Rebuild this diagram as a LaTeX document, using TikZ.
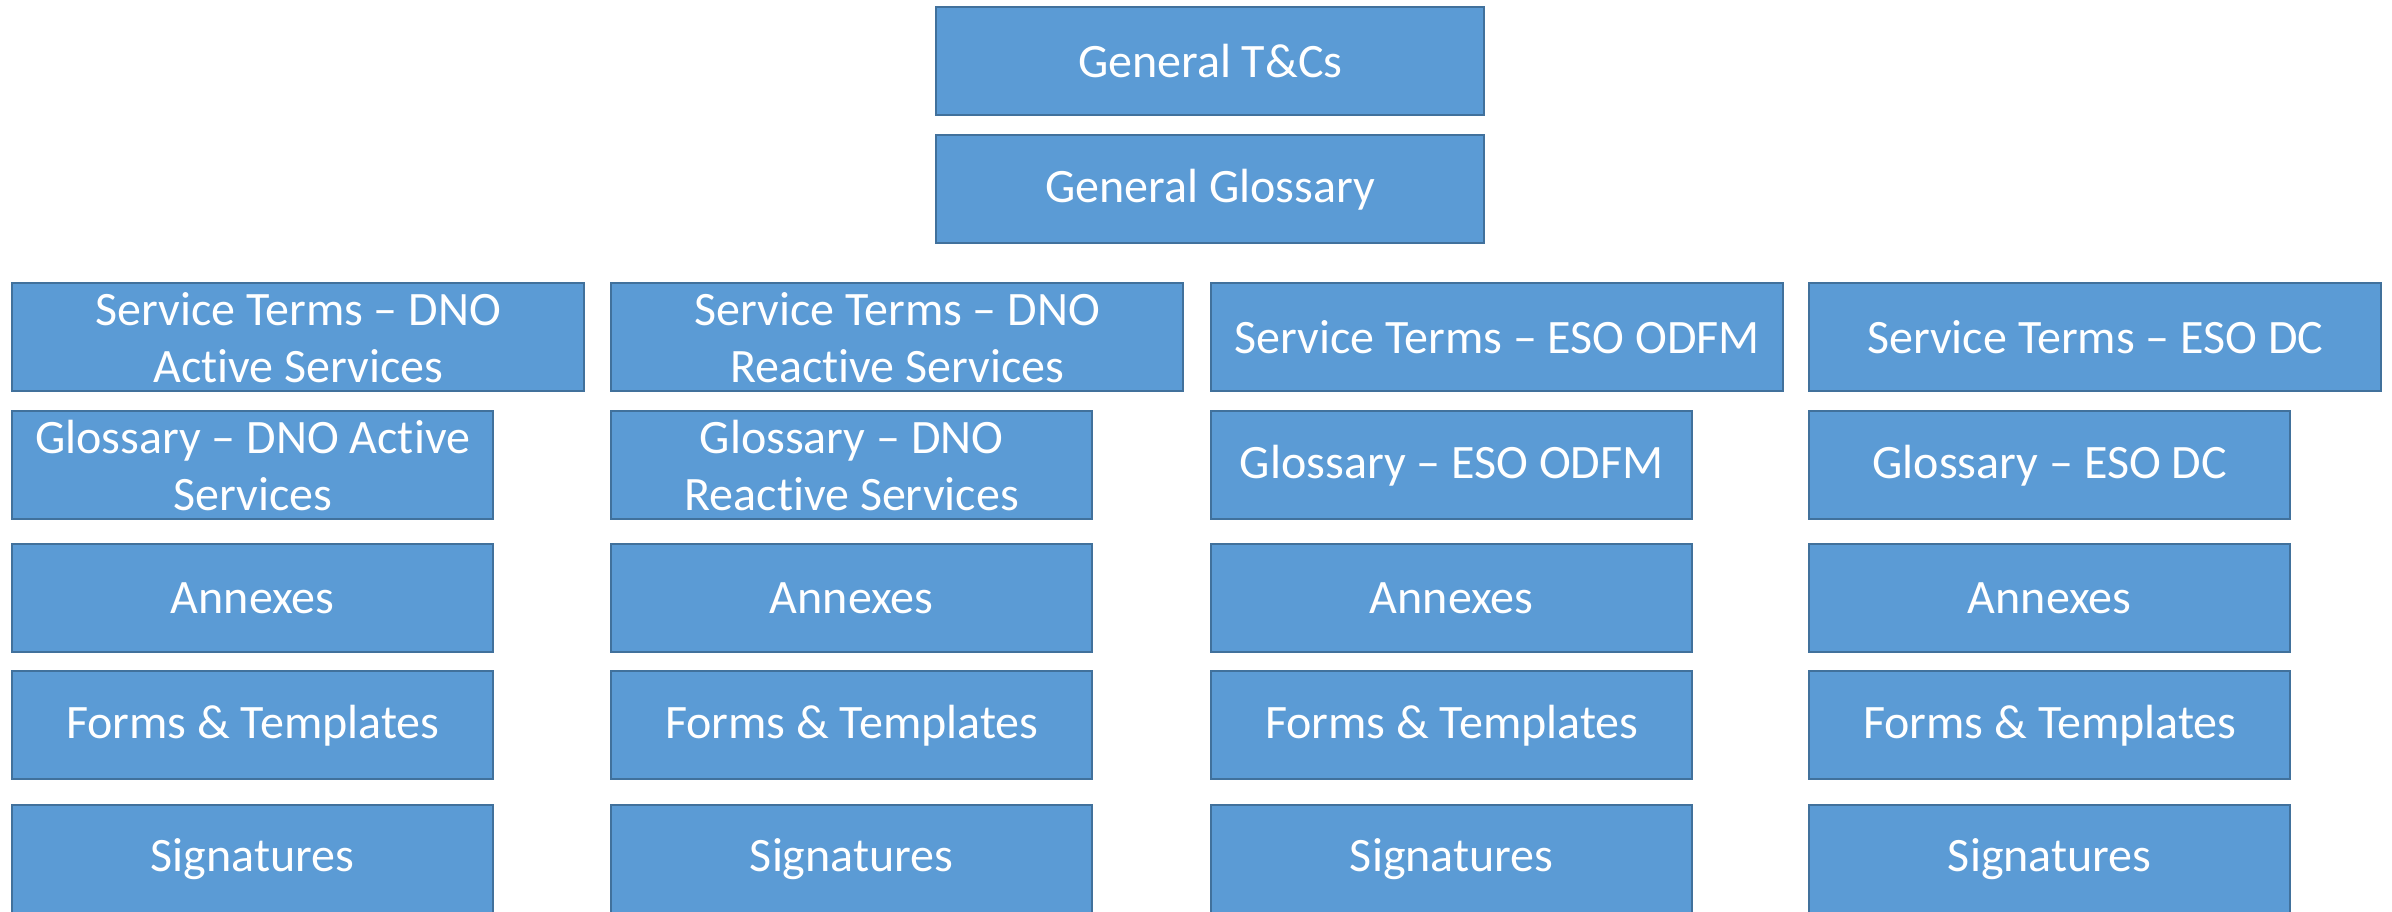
\documentclass[tikz,border=0pt]{standalone}
\usepackage{fontspec}
\setmainfont{Carlito}[Ligatures=NoCommon]
\usepackage{tikz}

\definecolor{blkfill}{RGB}{91,155,213}
\definecolor{blkline}{RGB}{65,113,156}

\tikzset{
  blk/.style={draw=blkline, fill=blkfill, line width=1.2pt, text=white,
    anchor=north west, inner sep=0pt, align=center, minimum height=54pt,
    font=\fontsize{24}{28.5}\selectfont},
  topblk/.style={blk, minimum width=274pt},
  wideblk/.style={blk, minimum width=286pt},
  narrowblk/.style={blk, minimum width=240.5pt}
}

\begin{document}
\begin{tikzpicture}[x=0.5pt,y=-0.5pt]
	\useasboundingbox (0,0) rectangle (2392,911);
	
	% General blocks
	\node [topblk] (gentc) at (935,6) {General T\&Cs};
	\node [topblk] (genglos) at (935,134) {General Glossary};
	
	% Column: DNO Active Services
	\node [wideblk] (termsdnoa) at (11,282) {Service Terms – DNO\\Active Services};
	\node [narrowblk] (glosdnoa) at (11,410) {Glossary – DNO Active\\Services};
	\node [narrowblk] (annexdnoa) at (11,543) {Annexes};
	\node [narrowblk] (formsdnoa) at (11,670) {Forms \& Templates};
	\node [narrowblk] (signdnoa) at (11,804) {Signatures};
	
	% Column: DNO Reactive Services
	\node [wideblk] (termsdnor) at (610,282) {Service Terms – DNO\\Reactive Services};
	\node [narrowblk] (glosdnor) at (610,410) {Glossary – DNO\\Reactive Services};
	\node [narrowblk] (annexdnor) at (610,543) {Annexes};
	\node [narrowblk] (formsdnor) at (610,670) {Forms \& Templates};
	\node [narrowblk] (signdnor) at (610,804) {Signatures};
	
	% Column: ESO ODFM
	\node [wideblk] (termsodfm) at (1210,282) {Service Terms – ESO ODFM};
	\node [narrowblk] (glosodfm) at (1210,410) {Glossary – ESO ODFM};
	\node [narrowblk] (annexodfm) at (1210,543) {Annexes};
	\node [narrowblk] (formsodfm) at (1210,670) {Forms \& Templates};
	\node [narrowblk] (signodfm) at (1210,804) {Signatures};
	
	% Column: ESO DC
	\node [wideblk] (termsdc) at (1808,282) {Service Terms – ESO DC};
	\node [narrowblk] (glosdc) at (1808,410) {Glossary – ESO DC};
	\node [narrowblk] (annexdc) at (1808,543) {Annexes};
	\node [narrowblk] (formsdc) at (1808,670) {Forms \& Templates};
	\node [narrowblk] (signdc) at (1808,804) {Signatures};
	
\end{tikzpicture}
\end{document}
